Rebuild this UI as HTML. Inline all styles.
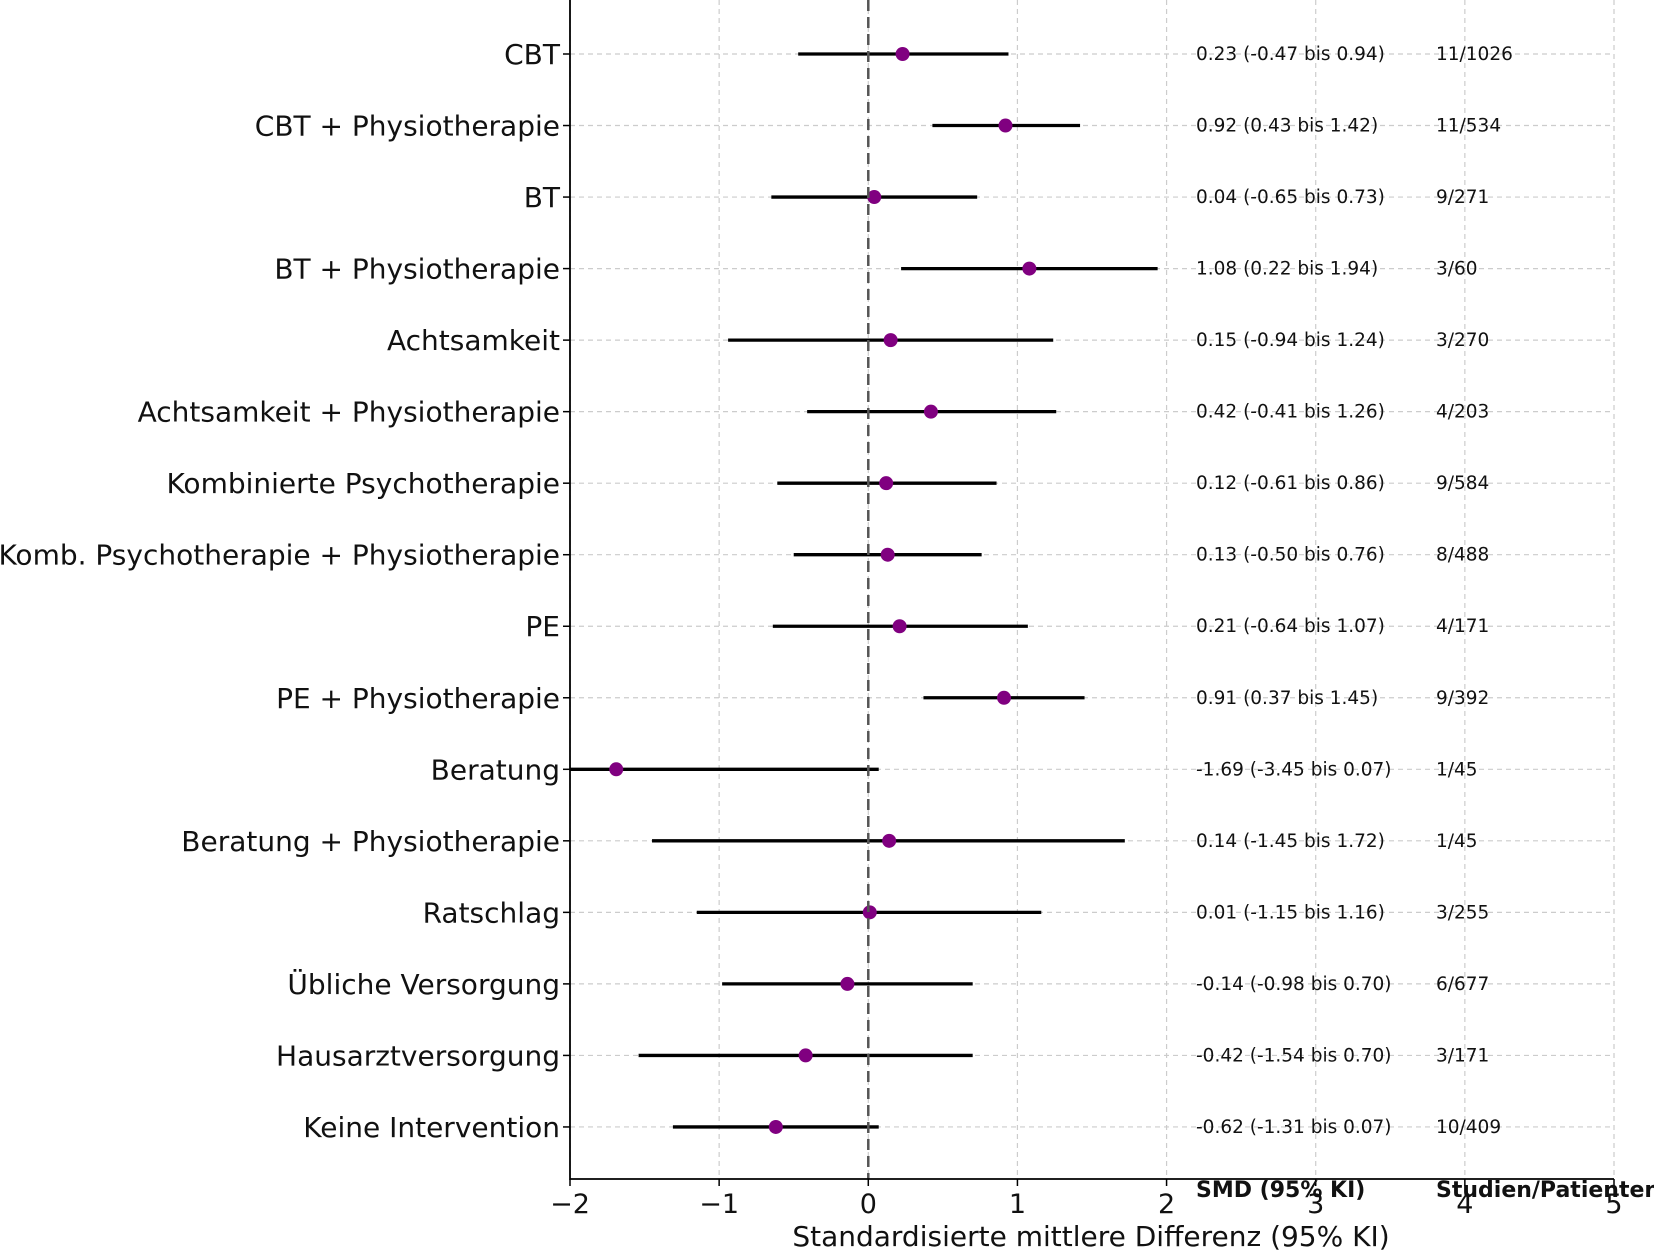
<!DOCTYPE html>
<html><head><meta charset="utf-8"><style>
html,body{margin:0;padding:0;background:#fff;overflow:hidden;}
svg{display:block;font-family:"DejaVu Sans","Liberation Sans",sans-serif;}
</style></head><body>
<svg id="chart" width="1654" height="1252" viewBox="0 0 1654 1252" xmlns="http://www.w3.org/2000/svg">
<g id="grid"></g>
<g id="marks"></g>
<g id="labels"></g>
</svg>
<script>
const categories = ["CBT","CBT + Physiotherapie","BT","BT + Physiotherapie","Achtsamkeit","Achtsamkeit + Physiotherapie","Kombinierte Psychotherapie","Komb. Psychotherapie + Physiotherapie","PE","PE + Physiotherapie","Beratung","Beratung + Physiotherapie","Ratschlag","Übliche Versorgung","Hausarztversorgung","Keine Intervention"];
const smd = [0.23,0.92,0.04,1.08,0.15,0.42,0.12,0.13,0.21,0.91,-1.69,0.14,0.01,-0.14,-0.42,-0.62];
const lower = [-0.47,0.43,-0.65,0.22,-0.94,-0.41,-0.61,-0.50,-0.64,0.37,-3.45,-1.45,-1.15,-0.98,-1.54,-1.31];
const upper = [0.94,1.42,0.73,1.94,1.24,1.26,0.86,0.76,1.07,1.45,0.07,1.72,1.16,0.70,0.70,0.07];
const studies = ["11/1026","11/534","9/271","3/60","3/270","4/203","9/584","8/488","4/171","9/392","1/45","1/45","3/255","6/677","3/171","10/409"];
const xTicks = [-2,-1,0,1,2,3,4,5];
const xTickLabels = ["\u22122","\u22121","0","1","2","3","4","5"];

const X0=570, X1=1614, XMIN=-2, XMAX=5;
const Y0=0, Y1=1179;
const xs = v => X0 + (v-XMIN)/(XMAX-XMIN)*(X1-X0);
const ys = i => 54 + i*71.53;
const NS="http://www.w3.org/2000/svg";
function mk(tag, attrs, parent){const e=document.createElementNS(NS,tag);for(const k in attrs)e.setAttribute(k,attrs[k]);parent.appendChild(e);return e;}
const grid=document.getElementById('grid'), marks=document.getElementById('marks'), labels=document.getElementById('labels');
const fmt=v=>v.toFixed(2);

xTicks.forEach((t,i)=>{
  const x=xs(t);
  const g=mk('line',{x1:x,y1:Y0,x2:x,y2:Y1,stroke:'#cccccc','stroke-width':1.2,'stroke-dasharray':'5,4'},grid);
  
  
  const tk=mk('line',{x1:x,y1:Y1,x2:x,y2:Y1+7,stroke:'#000','stroke-width':1.5},grid);
  
  
  const tl=mk('text',{x:x,y:Y1+34,'text-anchor':'middle','font-size':27,fill:'#111'},labels);
  tl.textContent=xTickLabels[i];
  
  
});
categories.forEach((c,i)=>{
  const y=ys(i);
  const g=mk('line',{x1:X0,y1:y,x2:X1,y2:y,stroke:'#cccccc','stroke-width':1.2,'stroke-dasharray':'5,4'},grid);
  
  
  const tk=mk('line',{x1:X0-7,y1:y,x2:X0,y2:y,stroke:'#000','stroke-width':1.5},grid);
  
  
  const l=mk('text',{x:X0-10,y:y+10,'text-anchor':'end','font-size':28,fill:'#111'},labels);
  l.textContent=c;
  
  
  const ci=mk('line',{x1:xs(Math.max(lower[i],XMIN)),y1:y,x2:xs(upper[i]),y2:y,stroke:'#000','stroke-width':3.3},marks);
  
  
  const d=mk('circle',{cx:xs(smd[i]),cy:y,r:7,fill:'#800080'},marks);
  
  
  const t=mk('text',{x:1196,y:y+6,'font-size':18.5,fill:'#111'},labels);
  t.textContent=fmt(smd[i])+' ('+fmt(lower[i])+' bis '+fmt(upper[i])+')';
  
  
  const s=mk('text',{x:1436,y:y+6,'font-size':18.5,fill:'#111'},labels);
  s.textContent=studies[i];
  
  
});
const zl=mk('line',{x1:xs(0),y1:Y0,x2:xs(0),y2:Y1,stroke:'#555','stroke-width':2.5,'stroke-dasharray':'11,6'},marks);


const ax=mk('path',{d:`M${X0},${Y0} L${X0},${Y1} L${X1},${Y1}`,fill:'none',stroke:'#000','stroke-width':1.8},marks);


const h1=mk('text',{x:1196,y:1197,'font-size':22,'font-weight':'bold',fill:'#111'},labels);
h1.textContent='SMD (95% KI)';


const h2=mk('text',{x:1436,y:1197,'font-size':22,'font-weight':'bold',fill:'#111'},labels);
h2.textContent='Studien/Patienten';


const xt=mk('text',{x:(xs(-2)+xs(5))/2-1,y:1246,'text-anchor':'middle','font-size':28,fill:'#111'},labels);
xt.textContent='Standardisierte mittlere Differenz (95% KI)';


</script>
</body></html>
